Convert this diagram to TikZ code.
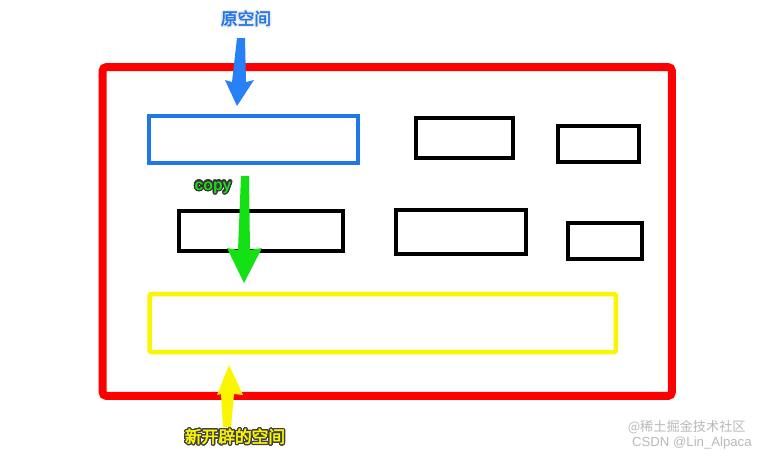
\documentclass[tikz,border=0pt]{standalone}
\usepackage{fontspec}
\usepackage{contour}
\usetikzlibrary{arrows.meta}
\newfontfamily\cjk{Noto Sans CJK SC}[AutoFakeBold=3]
\setsansfont{Liberation Sans}
\definecolor{boxred}{RGB}{255,0,0}
\definecolor{boxblue}{RGB}{32,118,235}
\definecolor{arrblue}{RGB}{40,128,245}
\definecolor{arrgreen}{RGB}{20,225,20}
\definecolor{boxyellow}{RGB}{250,245,0}
\definecolor{txtgreen}{RGB}{30,215,30}
\definecolor{wm}{RGB}{185,185,185}
\tikzset{
  px/.style={x=0.02cm,y=-0.02cm},
  frame/.style={draw=boxred, line width=0.16cm, rounded corners=0.08cm, inner sep=0pt},
  bluebox/.style={draw=boxblue, line width=0.07cm, inner sep=0pt},
  blackbox/.style={draw=black, line width=0.08cm, inner sep=0pt},
  yelbox/.style={draw=boxyellow, line width=0.09cm, rounded corners=0.03cm, inner sep=0pt},
}
\contournumber{24}
\contourlength{0.7pt}
\begin{document}
\begin{tikzpicture}[px]
\useasboundingbox[fill=white] (0,0) rectangle (765,458);
% red frame
\node[frame, minimum width=11.39cm, minimum height=6.58cm] (frame) at (387.25,231.5) {};
% blue original box
\node[bluebox, minimum width=4.18cm, minimum height=0.94cm] (orig) at (253.5,139.5) {};
% black boxes
\node[blackbox, minimum width=1.94cm, minimum height=0.80cm] (b1) at (464.5,138) {};
\node[blackbox, minimum width=1.62cm, minimum height=0.72cm] (b2) at (598.5,144) {};
\node[blackbox, minimum width=3.28cm, minimum height=0.80cm] (b3) at (261,231) {};
\node[blackbox, minimum width=2.60cm, minimum height=0.88cm] (b4) at (461,232) {};
\node[blackbox, minimum width=1.49cm, minimum height=0.72cm] (b5) at (604.75,241) {};
% yellow new box
\node[yelbox, minimum width=9.33cm, minimum height=1.16cm] (newbox) at (382.75,323) {};
% labels
\node (lorig) at (246,19) {\cjk\bfseries\fontsize{9.5pt}{10pt}\selectfont\contour{white!85!gray}{\textcolor{boxblue}{原空间}}};
\node (lcopy) at (213,188) {\sffamily\bfseries\fontsize{9pt}{10pt}\selectfont\contour{black!80}{\textcolor{txtgreen}{copy}}};
\node (lnew) at (235,437) {\cjk\bfseries\fontsize{9.5pt}{10pt}\selectfont\contour{black!75}{\textcolor{boxyellow}{新开辟的空间}}};
% arrows as shapes
\coordinate (ba) at (241,38);
\coordinate (bt) at (237,106);
\fill[arrblue] (ba) ++(-4,0) -- (232,82) -- (225,80) -- (bt) -- (254,80) -- (246,82) -- (245,38) -- cycle;
\coordinate (ga) at (245,176);
\coordinate (gt) at (244,283);
\fill[arrgreen] (ga) ++(-4,0) -- (238,250) -- (227,248) -- (gt) -- (262,248) -- (250,250) -- (249,176) -- cycle;
\coordinate (ya) at (227,427);
\coordinate (yt) at (229,365);
\fill[boxyellow] (ya) ++(-4,0) -- (221,394) -- (217,395) -- (yt) -- (243,395) -- (234,394) -- (231,427) -- cycle;
% watermark
\node[text=wm, anchor=east, inner sep=0pt] (wm1) at (746,427) {\cjk\fontsize{7.5pt}{8pt}\selectfont @稀土掘金技术社区};
\node[text=wm, anchor=east, inner sep=0pt] (wm2) at (752,443) {\fontspec{Liberation Sans}\fontsize{7.5pt}{8pt}\selectfont CSDN @Lin\_Alpaca};
\end{tikzpicture}
\end{document}
